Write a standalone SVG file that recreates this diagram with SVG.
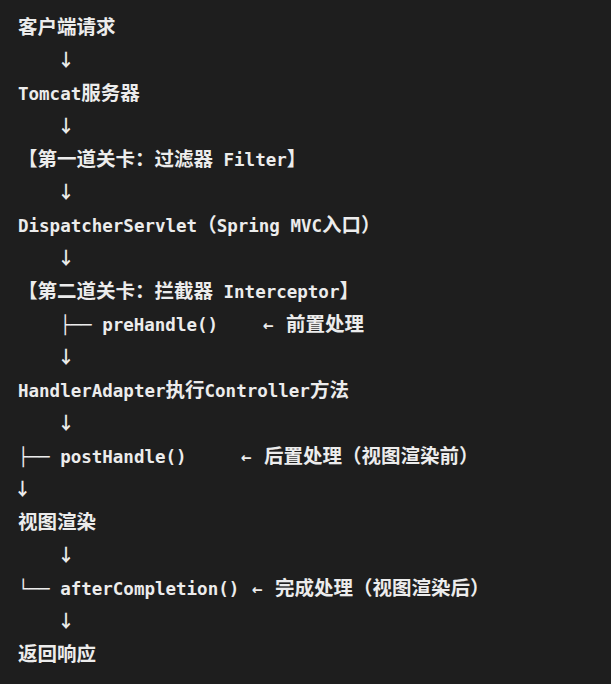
<svg xmlns="http://www.w3.org/2000/svg" width="611" height="684" viewBox="0 0 611 684">
<style>
text{font-family:"DejaVu Sans Mono","Liberation Mono","Noto Sans CJK SC",monospace;font-size:17.5px;font-weight:bold;fill:#ececec;white-space:pre}
.c{font-family:"Noto Sans CJK SC",sans-serif;font-size:19.5px;font-weight:bold}
.d{font-family:"Noto Sans CJK SC",sans-serif;font-size:17.5px;font-weight:bold;text-anchor:middle}
</style>
<rect width="611" height="684" fill="#1e1e1e"/>
<g id="n1"><text x="18" y="33.5" xml:space="preserve"><tspan class="c">客户端请求</tspan></text></g>
<g id="n2"><text x="18" y="99.5" xml:space="preserve">Tomcat<tspan class="c">服务器</tspan></text></g>
<g id="n3"><text x="18" y="165.5" xml:space="preserve"><tspan class="c">【第一道关卡：过滤器</tspan> Filter<tspan class="c">】</tspan></text></g>
<g id="n4"><text x="18" y="231.5" xml:space="preserve">DispatcherServlet<tspan class="c">（</tspan>Spring MVC<tspan class="c">入口）</tspan></text></g>
<g id="n5"><text x="18" y="297.5" xml:space="preserve"><tspan class="c">【第二道关卡：拦截器</tspan> Interceptor<tspan class="c">】</tspan></text></g>
<g id="n6"><text x="60" y="330.5" xml:space="preserve">├── preHandle()</text><text x="263" y="330.5">←</text><text x="286" y="330.5"><tspan class="c">前置处理</tspan></text></g>
<g id="n7"><text x="18" y="396.5" xml:space="preserve">HandlerAdapter<tspan class="c">执行</tspan>Controller<tspan class="c">方法</tspan></text></g>
<g id="n8"><text x="18" y="462.5" xml:space="preserve">├── postHandle()</text><text x="241" y="462.5">←</text><text x="264" y="462.5"><tspan class="c">后置处理（视图渲染前）</tspan></text></g>
<g id="n9"><text x="18" y="528.5" xml:space="preserve"><tspan class="c">视图渲染</tspan></text></g>
<g id="n10"><text x="18" y="594.5" xml:space="preserve">└── afterCompletion()</text><text x="252" y="594.5">←</text><text x="275" y="594.5"><tspan class="c">完成处理（视图渲染后）</tspan></text></g>
<g id="n11"><text x="18" y="660.5" xml:space="preserve"><tspan class="c">返回响应</tspan></text></g>
<g id="connectors">
<text class="d" x="66" y="66">↓</text>
<text class="d" x="66" y="132">↓</text>
<text class="d" x="66" y="198">↓</text>
<text class="d" x="66" y="264">↓</text>
<text class="d" x="66" y="363">↓</text>
<text class="d" x="66" y="429">↓</text>
<text class="d" x="22.5" y="495">↓</text>
<text class="d" x="66" y="561">↓</text>
<text class="d" x="66" y="627">↓</text>
</g>
</svg>
